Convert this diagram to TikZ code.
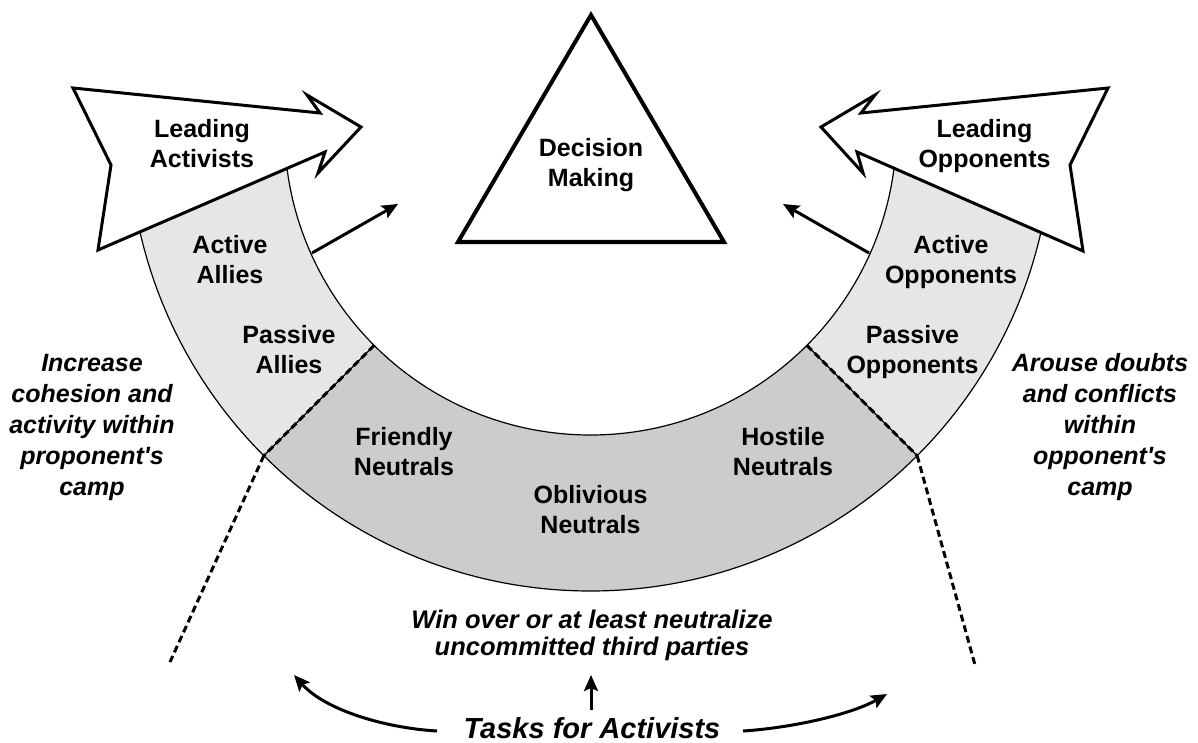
\documentclass[tikz,border=0pt]{standalone}
\usepackage{fontspec}
\setmainfont{Liberation Sans}[Ligatures=TeXOff]
\usetikzlibrary{arrows.meta,calc}
\definecolor{lightband}{HTML}{E6E6E6}
\definecolor{darkband}{HTML}{CCCCCC}
\begin{document}
\begin{tikzpicture}[x=1pt,y=-1pt,
  lbl/.style={font=\bfseries\fontsize{25}{30}\selectfont, align=center, anchor=base, inner sep=0pt},
  task/.style={font=\bfseries\itshape\fontsize{25}{31}\selectfont, align=center, anchor=base, inner sep=0pt},
  bigtask/.style={font=\bfseries\itshape\fontsize{29}{34}\selectfont, anchor=base, inner sep=0pt},
  edge/.style={line width=1.2pt},
  divider/.style={line width=3pt, dash pattern=on 7pt off 4pt},
  fatarrow/.style={draw, fill=white, line width=3pt, line join=miter},
  connector/.style={line width=3pt, -{Stealth[length=16pt,width=14pt,inset=3pt]}},
]
\useasboundingbox (0,0) rectangle (1198,743);
\coordinate (C) at (590.5,129);
\def\Ro{462}
\def\Ri{306}
% band regions
\fill[lightband] ($(C)+(180:\Ro)$) arc[start angle=180, end angle=135, radius=\Ro]
  -- ($(C)+(135:\Ri)$) arc[start angle=135, end angle=180, radius=\Ri] -- cycle;
\fill[darkband] ($(C)+(135:\Ro)$) arc[start angle=135, end angle=45, radius=\Ro]
  -- ($(C)+(45:\Ri)$) arc[start angle=45, end angle=135, radius=\Ri] -- cycle;
\fill[lightband] ($(C)+(45:\Ro)$) arc[start angle=45, end angle=0, radius=\Ro]
  -- ($(C)+(0:\Ri)$) arc[start angle=0, end angle=45, radius=\Ri] -- cycle;
% band edges
\draw[edge] ($(C)+(180:\Ro)$) arc[start angle=180, end angle=0, radius=\Ro];
\draw[edge] ($(C)+(180:\Ri)$) arc[start angle=180, end angle=0, radius=\Ri];
\coordinate (dlo) at ($(C)+(135:\Ro)$);
\coordinate (dli) at ($(C)+(135:\Ri)$);
\coordinate (dro) at ($(C)+(45:\Ro)$);
\coordinate (dri) at ($(C)+(45:\Ri)$);
\draw[edge] (dlo) -- (dli);
\draw[edge] (dro) -- (dri);
\draw[divider] (dli) -- (dlo);
\draw[divider] (dri) -- (dro);
% dashed extensions
\coordinate (dlend) at (170,662);
\coordinate (drend) at (975,665);
\draw[divider] (dlo) -- (dlend);
\draw[divider] (dro) -- (drend);
% fat arrows
\draw[fatarrow] (73,88) -- (320,113) -- (307,95) -- (361,127) -- (318,173) -- (325,152) -- (98,250) -- (111,165) -- cycle;
\draw[fatarrow] (1108,88) -- (861,113) -- (875,95) -- (821,127) -- (863,173) -- (857,152) -- (1083,251) -- (1070,165) -- cycle;
% triangle
\draw[line width=4pt, line join=miter] (591,15) -- (724,242) -- (458,242) -- cycle;
% labels (anchor = baseline of the last line)
\node[lbl] (lead1) at (202,168) {Leading\\Activists};
\node[lbl] (lead2) at (984.5,168) {Leading\\Opponents};
\node[lbl] (dec) at (591,187) {Decision\\Making};
\node[lbl] (actal) at (230,283) {Active\\Allies};
\node[lbl] (actop) at (951,283) {Active\\Opponents};
\node[lbl] (pasal) at (289,373) {Passive\\Allies};
\node[lbl] (pasop) at (912.5,373) {Passive\\Opponents};
\node[lbl] (frn) at (404,475) {Friendly\\Neutrals};
\node[lbl] (hon) at (783,475) {Hostile\\Neutrals};
\node[lbl] (obn) at (590.5,533) {Oblivious\\Neutrals};
\node[task] (tl) at (92,495) {Increase\\cohesion and\\activity within\\proponent's\\camp};
\node[task] (tr) at (1100,495) {Arouse doubts\\and conflicts\\within\\opponent's\\camp};
\node[task, font=\bfseries\itshape\fontsize{25.5}{27}\selectfont] (tb) at (592,655) {Win over or at least neutralize\\uncommitted third parties};
\node[bigtask] (tasks) at (592,738) {Tasks for Activists};
% small arrows toward decision making
\coordinate (sa1) at (312,253);
\coordinate (sa1e) at (398,204);
\coordinate (sa2) at (869,253);
\coordinate (sa2e) at (783,204);
\draw[connector] (sa1) -- (sa1e);
\draw[connector] (sa2) -- (sa2e);
% task arrows
\coordinate (tl1) at (437,731);
\coordinate (tl2) at (294,675);
\coordinate (tr1) at (743,731);
\coordinate (tr2) at (887,694);
\coordinate (tu1) at (591,710);
\coordinate (tu2) at (591,675);
\draw[connector] (tl1) .. controls (385,728) and (325,710) .. (tl2);
\draw[connector] (tr1) .. controls (790,728) and (850,715) .. (tr2);
\draw[connector] (tu1) -- (tu2);
\end{tikzpicture}
\end{document}
